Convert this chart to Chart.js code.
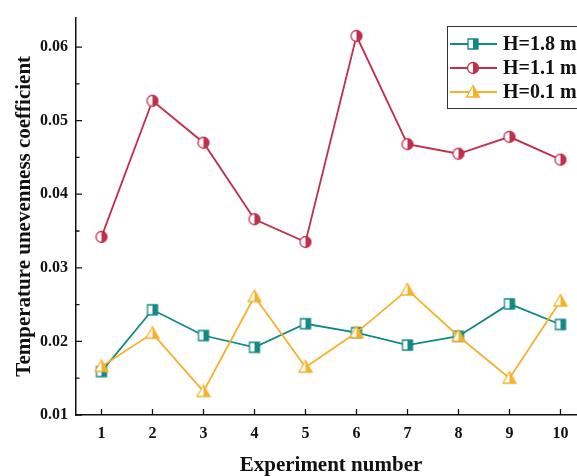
<!DOCTYPE html>
<html>
<head>
<meta charset="utf-8">
<script src="https://cdn.jsdelivr.net/npm/chart.js@4.4.1/dist/chart.umd.min.js"></script>
<style>
  html, body { margin: 0; padding: 0; background: #fff; overflow: hidden; }
  #wrap { width: 600px; height: 476px; }
</style>
</head>
<body>
<div id="wrap"><canvas id="chart" width="600" height="476"></canvas></div>
<script>
// data
const experiments = ['1', '2', '3', '4', '5', '6', '7', '8', '9', '10'];
const h18 = [0.0159, 0.0243, 0.0208, 0.0192, 0.0224, 0.0212, 0.0195, 0.0207, 0.0251, 0.0223];
const h11 = [0.0342, 0.0527, 0.0470, 0.0366, 0.0335, 0.0615, 0.0468, 0.0455, 0.0478, 0.0447];
const h01 = [0.0166, 0.0211, 0.0132, 0.0261, 0.0165, 0.0212, 0.0270, 0.0207, 0.0150, 0.0255];
const yTicks = [0.01, 0.02, 0.03, 0.04, 0.05, 0.06];
const seriesNames = ['H=1.8 m', 'H=1.1 m', 'H=0.1 m'];

const TEAL = '#138985';
const RED = '#c12f4a';
const YELLOW = '#f6b12c';
const FONT = '"Liberation Serif", "Times New Roman", serif';

// half filled markers (left white, right coloured)
function makeMarker(shape, color) {
  const s = 16;
  const c = document.createElement('canvas');
  c.width = s; c.height = s;
  const g = c.getContext('2d');
  const m = s / 2;
  g.beginPath();
  if (shape === 'square') {
    g.rect(m - 5, m - 5, 10, 10);
  } else if (shape === 'circle') {
    g.arc(m, m, 5.5, 0, Math.PI * 2);
  } else {
    g.moveTo(m, m - 6.5);
    g.lineTo(m + 6.5, m + 5);
    g.lineTo(m - 6.5, m + 5);
    g.closePath();
  }
  g.fillStyle = '#fff';
  g.fill();
  g.save();
  g.clip();
  g.fillStyle = color;
  g.fillRect(m, 0, m, s);
  g.restore();
  g.lineWidth = 1.3;
  g.strokeStyle = color;
  g.stroke();
  return c;
}

const markers = [makeMarker('square', TEAL), makeMarker('circle', RED), makeMarker('triangle', YELLOW)];
const colors = [TEAL, RED, YELLOW];

// inward tick marks on both axes
const tickPlugin = {
  id: 'inTicks',
  afterDraw(chart) {
    const { ctx, scales: { x, y }, chartArea } = chart;
    ctx.save();
    ctx.strokeStyle = '#111';
    ctx.lineWidth = 1.3;
    ctx.beginPath();
    experiments.forEach((e, i) => {
      const px = x.getPixelForValue(i);
      ctx.moveTo(px, chartArea.bottom);
      ctx.lineTo(px, chartArea.bottom - 6);
    });
    for (let v = 0.01; v < 0.0645; v += 0.005) {
      const py = y.getPixelForValue(v);
      const major = Math.abs(v * 100 - Math.round(v * 100)) < 1e-6;
      ctx.moveTo(chartArea.left, py);
      ctx.lineTo(chartArea.left + (major ? 6 : 3.5), py);
    }
    ctx.stroke();
    ctx.restore();
  }
};

// legend box in the upper right (runs off the right edge like the source)
const legendPlugin = {
  id: 'boxLegend',
  afterDraw(chart) {
    const { ctx } = chart;
    const left = 447, top = 26, bottom = 108;
    ctx.save();
    ctx.strokeStyle = '#333';
    ctx.lineWidth = 1;
    ctx.strokeRect(left + 0.5, top + 0.5, 400, bottom - top);
    ctx.font = 'bold 20px ' + FONT;
    ctx.textBaseline = 'middle';
    seriesNames.forEach((name, i) => {
      const yy = 44 + i * 24;
      ctx.strokeStyle = colors[i];
      ctx.lineWidth = 2;
      ctx.beginPath();
      ctx.moveTo(450, yy);
      ctx.lineTo(497, yy);
      ctx.stroke();
      ctx.drawImage(markers[i], 473 - 8, yy - 8);
      ctx.fillStyle = '#111';
      ctx.fillText(name, 503, yy + 1);
    });
    ctx.restore();
  }
};

function series(label, data, i, order) {
  return {
    label,
    data,
    borderColor: colors[i],
    backgroundColor: colors[i],
    borderWidth: 1.8,
    pointStyle: markers[i],
    pointRadius: 6,
    tension: 0,
    order
  };
}

new Chart(document.getElementById('chart'), {
  type: 'line',
  data: {
    labels: experiments,
    datasets: [
      series(seriesNames[0], h18, 0, 2),
      series(seriesNames[1], h11, 1, 1),
      series(seriesNames[2], h01, 2, 0)
    ]
  },
  options: {
    responsive: false,
    animation: false,
    layout: { padding: { top: 15, right: 14, left: 0, bottom: 0 } },
    plugins: { legend: { display: false }, tooltip: { enabled: false } },
    scales: {
      x: {
        offset: true,
        grid: { display: false, drawTicks: false },
        border: { display: true, color: '#111', width: 1.5 },
        ticks: { color: '#111', padding: 9, font: { family: FONT, size: 16, weight: 'bold' } },
        title: {
          display: true,
          text: 'Experiment number',
          color: '#111',
          padding: { top: 0, bottom: 0 },
          font: { family: FONT, size: 21, weight: 'bold', lineHeight: 1.0 }
        },
        afterFit(scale) { scale.height = 61; }
      },
      y: {
        min: 0.01,
        max: 0.064,
        grid: { display: false, drawTicks: false },
        border: { display: true, color: '#111', width: 1.5 },
        afterBuildTicks(scale) { scale.ticks = yTicks.map(v => ({ value: v })); },
        ticks: {
          color: '#111',
          padding: 8,
          font: { family: FONT, size: 16, weight: 'bold' },
          callback: v => Number(v).toFixed(2)
        },
        title: {
          display: true,
          text: 'Temperature unevenness coefficient',
          color: '#111',
          padding: { top: 12, bottom: 0 },
          font: { family: FONT, size: 21, weight: 'bold' }
        },
        afterFit(scale) { scale.width = 76; }
      }
    }
  },
  plugins: [tickPlugin, legendPlugin]
});
</script>
</body>
</html>
